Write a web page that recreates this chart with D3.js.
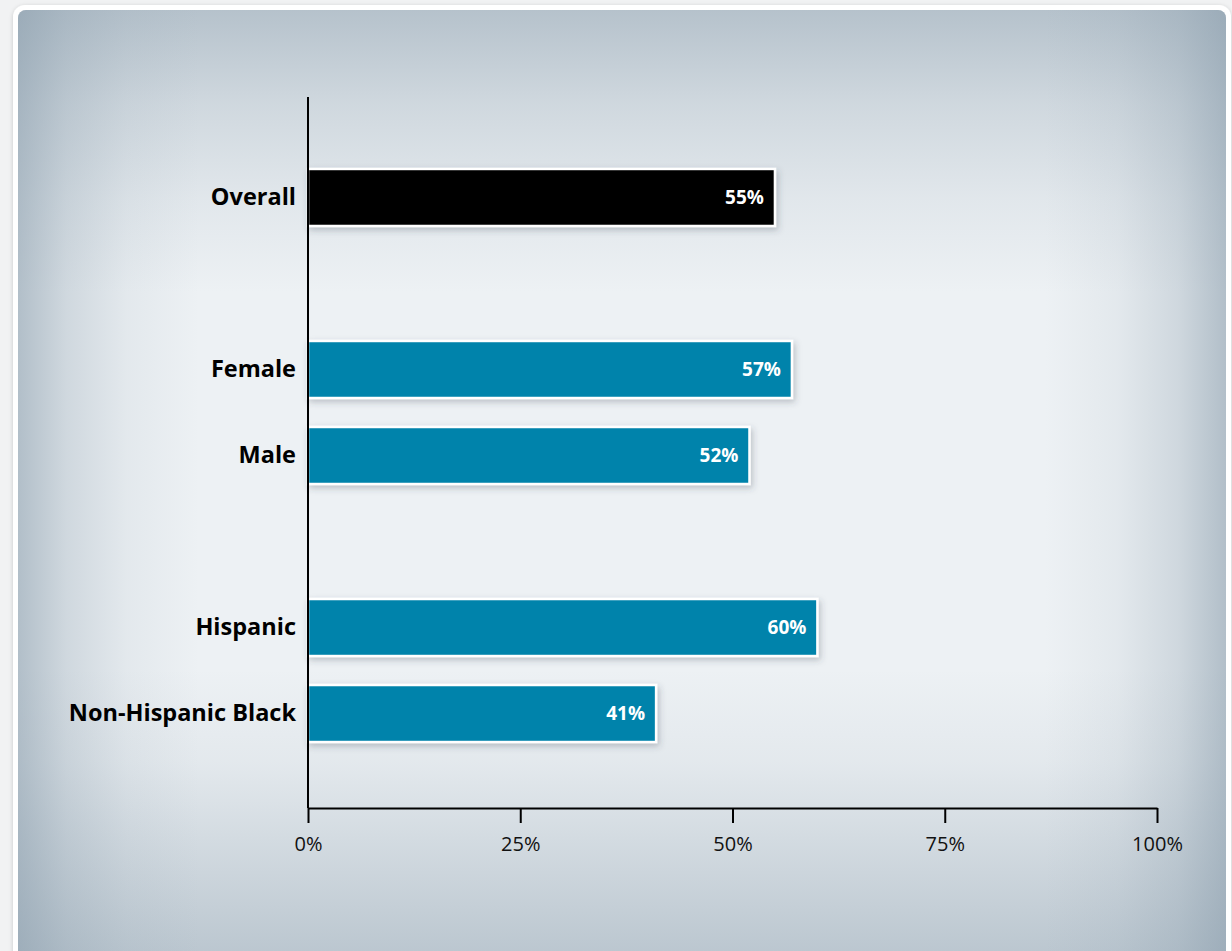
<!DOCTYPE html>
<html>
<head>
<meta charset="utf-8">
<script src="https://cdn.jsdelivr.net/npm/d3@7"></script>
<style>
  html, body { margin: 0; padding: 0; background: #f1f2f3; }
  svg { display: block; }
</style>
</head>
<body>
<div id="chart"></div>
<script>
// Share of respondents, by group
const categories = ["Overall", "Female", "Male", "Hispanic", "Non-Hispanic Black"];
const groups     = ["overall", "sex", "sex", "race", "race"];
const values     = [55, 57, 52, 60, 41];
const xTicks     = [0, 25, 50, 75, 100];

const W = 1232, H = 951;
const FONT = "'Open Sans', 'Noto Sans', sans-serif";
const svg = d3.select("#chart").append("svg").attr("width", W).attr("height", H);
const defs = svg.append("defs");

// edge shading for the panel: one fading gradient per side
function edgeGradient(id, x1, y1, x2, y2, stops) {
  const lg = defs.append("linearGradient").attr("id", id)
    .attr("x1", x1).attr("y1", y1).attr("x2", x2).attr("y2", y2);
  stops.forEach(([o, a]) => lg.append("stop").attr("offset", o)
    .attr("stop-color", "#8a9dac").attr("stop-opacity", a));
}
edgeGradient("shadeTop", 0, 0, 0, 1, [[0, 0.56], [0.1, 0.3], [0.2, 0.12], [0.3, 0]]);
edgeGradient("shadeBottom", 0, 1, 0, 0, [[0, 0.5], [0.1, 0.3], [0.2, 0.1], [0.3, 0]]);
edgeGradient("shadeLeft", 0, 0, 1, 0, [[0, 0.6], [0.04, 0.3], [0.09, 0.1], [0.15, 0]]);
edgeGradient("shadeRight", 1, 0, 0, 0, [[0, 0.6], [0.04, 0.3], [0.09, 0.1], [0.15, 0]]);

const cardShadow = defs.append("filter").attr("id", "cardShadow")
  .attr("x", -0.05).attr("y", -0.05).attr("width", 1.1).attr("height", 1.1);
cardShadow.append("feDropShadow").attr("dx", 0).attr("dy", 1).attr("stdDeviation", 2)
  .attr("flood-color", "#000").attr("flood-opacity", 0.18);

const barShadow = defs.append("filter").attr("id", "barShadow")
  .attr("x", -0.1).attr("y", -0.3).attr("width", 1.2).attr("height", 1.8);
barShadow.append("feDropShadow").attr("dx", 2).attr("dy", 3).attr("stdDeviation", 3)
  .attr("flood-color", "#3a4650").attr("flood-opacity", 0.28);

const clip = defs.append("clipPath").attr("id", "panelClip");
clip.append("rect").attr("x", 18).attr("y", 10).attr("width", 1208).attr("height", 950).attr("rx", 8);

// card frame and panel
svg.append("rect").attr("x", 13).attr("y", 5).attr("width", 1218).attr("height", 960)
  .attr("rx", 12).attr("fill", "#ffffff").attr("filter", "url(#cardShadow)");
const panel = svg.append("g").attr("clip-path", "url(#panelClip)");
panel.append("rect").attr("x", 18).attr("y", 10).attr("width", 1208).attr("height", 950)
  .attr("fill", "#edf1f4");
["shadeTop", "shadeBottom", "shadeLeft", "shadeRight"].forEach(id =>
  panel.append("rect").attr("x", 18).attr("y", 10).attr("width", 1208).attr("height", 941)
    .attr("fill", `url(#${id})`));

// scales: blank slots separate the groups
const slots = [];
categories.forEach((c, i) => {
  if (i > 0 && groups[i] !== groups[i - 1]) slots.push("gap-" + i);
  slots.push(c);
});

const axisTop = 97, baseline = 808;
const x = d3.scaleLinear().domain([0, 100]).range([308, 1157]);
const y = d3.scaleBand().domain(slots).range([axisTop - 2, 816])
  .paddingInner(0.337).paddingOuter(0.86);

const g = svg.append("g");

// bars
const bars = g.selectAll("g.bar").data(categories).join("g").attr("class", "bar");
bars.append("rect")
  .attr("x", x(0))
  .attr("y", d => y(d))
  .attr("width", (d, i) => x(values[i]) - x(0))
  .attr("height", y.bandwidth())
  .attr("fill", (d, i) => groups[i] === "overall" ? "#000000" : "#0083ab")
  .attr("stroke", "#ffffff")
  .attr("stroke-width", 2.5)
  .attr("filter", "url(#barShadow)");

bars.append("text")
  .attr("x", (d, i) => x(values[i]) - 11)
  .attr("y", d => y(d) + y.bandwidth() / 2)
  .attr("dy", "0.36em")
  .attr("text-anchor", "end")
  .attr("fill", "#ffffff")
  .attr("font-family", FONT)
  .attr("font-weight", 700)
  .attr("font-size", 19)
  .text((d, i) => values[i] + "%");

// y axis: category labels and vertical rule
const yAxis = g.append("g").attr("transform", `translate(${x(0)},0)`)
  .call(d3.axisLeft(y).tickValues(categories).tickSize(0).tickPadding(12));
yAxis.select(".domain").remove();
yAxis.selectAll("text")
  .attr("font-family", FONT)
  .attr("font-weight", 700)
  .attr("font-size", 23.5)
  .attr("fill", "#000");

g.append("line")
  .attr("x1", x(0)).attr("x2", x(0))
  .attr("y1", axisTop).attr("y2", baseline)
  .attr("stroke", "#000").attr("stroke-width", 2);

// x axis
const xAxis = g.append("g").attr("transform", `translate(0,${baseline})`)
  .call(d3.axisBottom(x).tickValues(xTicks).tickFormat(d => d + "%")
    .tickSize(15).tickSizeOuter(0).tickPadding(14));
xAxis.select(".domain").attr("stroke", "#000").attr("stroke-width", 2);
xAxis.selectAll(".tick line").attr("stroke", "#000").attr("stroke-width", 2);
xAxis.selectAll("text")
  .attr("font-family", FONT)
  .attr("font-size", 20)
  .attr("fill", "#111");
</script>
</body>
</html>
